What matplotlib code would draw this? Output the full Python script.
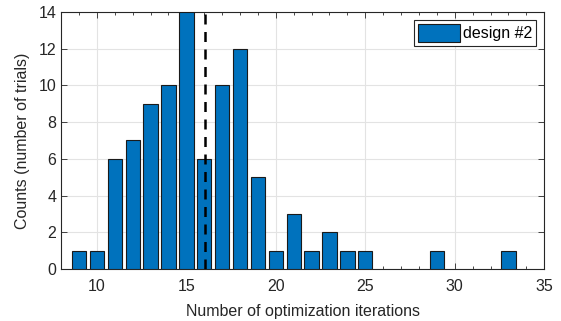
import matplotlib
matplotlib.use("Agg")
import matplotlib.pyplot as plt
from matplotlib.ticker import MultipleLocator
import numpy as np

plt.rcParams['font.family'] = ['Liberation Sans', 'DejaVu Sans']

iterations = [9, 10, 11, 12, 13, 14, 15, 16, 17, 18, 19, 20, 21, 22, 23, 24, 25, 29, 33]
counts = [1, 1, 6, 7, 9, 10, 14, 6, 10, 12, 5, 1, 3, 1, 2, 1, 1, 1, 1]
x_ticks = [10, 15, 20, 25, 30, 35]
y_ticks = [0, 2, 4, 6, 8, 10, 12, 14]

mean_iter = np.sum(np.array(iterations) * np.array(counts)) / np.sum(counts)

fig = plt.figure(figsize=(5.61, 3.21), dpi=100)
ax = fig.add_axes([0.109, 0.162, 0.861, 0.801])

ax.bar(iterations, counts, width=0.8, color='#0072BD', edgecolor='#1a1a1a',
       linewidth=0.8, label='design #2', zorder=3)
ax.axvline(mean_iter, color='black', linestyle=(0, (4, 3)), linewidth=1.8, zorder=4)

ax.set_xlim(8, 35)
ax.set_ylim(0, 14)
ax.set_xticks(x_ticks)
ax.set_yticks(y_ticks)
ax.xaxis.set_minor_locator(MultipleLocator(1))
ax.grid(True, which='major', color='#e3e3e3', linewidth=0.8, zorder=0)
ax.set_axisbelow(True)

ax.tick_params(which='both', direction='in', top=True, right=True,
               labelsize=11.5, colors='#262626', width=0.6)
ax.tick_params(axis='x', which='major', pad=7.5)
ax.tick_params(which='major', length=4)
ax.tick_params(which='minor', length=2.5)
for s in ax.spines.values():
    s.set_color('#262626')
    s.set_linewidth(0.8)

ax.set_xlabel('Number of optimization iterations', fontsize=11.5, color='#262626', labelpad=7)
ax.set_ylabel('Counts (number of trials)', fontsize=11.5, color='#262626', labelpad=6)

leg = ax.legend(loc='upper right', fontsize=11.5, fancybox=False, framealpha=1,
                edgecolor='#262626', handlelength=2.6, handleheight=1.4,
                handletextpad=0.2, borderpad=0.25, borderaxespad=0.5)
leg.get_frame().set_linewidth(0.8)

fig.savefig('out.png', dpi=100)
